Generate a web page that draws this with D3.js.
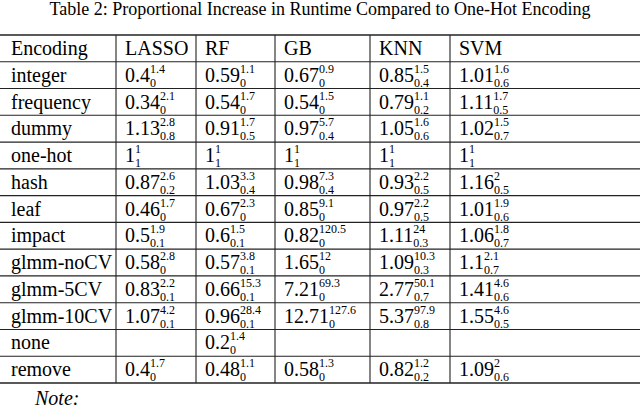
<!DOCTYPE html>
<html><head><meta charset="utf-8">
<script src="https://cdn.jsdelivr.net/npm/d3@7"></script>
<style>body{margin:0;background:#fff}</style>
</head><body>
<script>
// table contents: value, upper (superscript), lower (subscript)
let columns = ["Encoding", "LASSO", "RF", "GB", "KNN", "SVM"];
let encodings = ["integer", "frequency", "dummy", "one-hot", "hash", "leaf", "impact",
                 "glmm-noCV", "glmm-5CV", "glmm-10CV", "none", "remove"];
let lasso = [["0.4","1.4","0"],["0.34","2.1","0"],["1.13","2.8","0.8"],["1","1","1"],["0.87","2.6","0.2"],["0.46","1.7","0"],["0.5","1.9","0.1"],["0.58","2.8","0"],["0.83","2.2","0.1"],["1.07","4.2","0.1"],null,["0.4","1.7","0"]];
let rf = [["0.59","1.1","0"],["0.54","1.7","0"],["0.91","1.7","0.5"],["1","1","1"],["1.03","3.3","0.4"],["0.67","2.3","0"],["0.6","1.5","0.1"],["0.57","3.8","0.1"],["0.66","15.3","0.1"],["0.96","28.4","0.1"],["0.2","1.4","0"],["0.48","1.1","0"]];
let gb = [["0.67","0.9","0"],["0.54","1.5","0"],["0.97","5.7","0.4"],["1","1","1"],["0.98","7.3","0.4"],["0.85","9.1","0"],["0.82","120.5","0"],["1.65","12","0"],["7.21","69.3","0"],["12.71","127.6","0"],null,["0.58","1.3","0"]];
let knn = [["0.85","1.5","0.4"],["0.79","1.1","0.2"],["1.05","1.6","0.6"],["1","1","1"],["0.93","2.2","0.5"],["0.97","2.2","0.5"],["1.11","24","0.3"],["1.09","10.3","0.3"],["2.77","50.1","0.7"],["5.37","97.9","0.8"],null,["0.82","1.2","0.2"]];
let svm = [["1.01","1.6","0.6"],["1.11","1.7","0.5"],["1.02","1.5","0.7"],["1","1","1"],["1.16","2","0.5"],["1.01","1.9","0.6"],["1.06","1.8","0.7"],["1.1","2.1","0.7"],["1.41","4.6","0.6"],["1.55","4.6","0.5"],null,["1.09","2","0.6"]];
let series = [lasso, rf, gb, knn, svm];

let width = 640, height = 412;
let font = "'Liberation Serif', 'DejaVu Serif', serif";
let svg = d3.select("body").append("svg").attr("width", width).attr("height", height);

let colEdges = [2, 116, 196, 275, 370, 450, 637];
let x = d3.scaleOrdinal().domain(columns).range(colEdges.slice(0, -1));
let y = d3.scaleBand().domain(["header"].concat(encodings)).range([35, 383]);

svg.append("text").attr("x", 320).attr("y", 15).attr("text-anchor", "middle")
    .attr("font-family", font).attr("font-size", 18).text("Table 2: Proportional Increase in Runtime Compared to One-Hot Encoding");

// grid
let g = svg.append("g").attr("stroke", "#222").attr("fill", "none");
y.domain().forEach((r, i) => {
    let top = y(r);
    g.append("line").attr("x1", 0).attr("x2", width).attr("y1", top).attr("y2", top)
        .attr("stroke-width", i === 0 ? 1.6 : 1.1);
});
g.append("line").attr("x1", 0).attr("x2", width).attr("y1", y.range()[1]).attr("y2", y.range()[1]).attr("stroke-width", 1.6);
colEdges.slice(1, -1).forEach(c => g.append("line").attr("x1", c).attr("x2", c)
    .attr("y1", y.range()[0]).attr("y2", y.range()[1]).attr("stroke-width", 1.1));

// header
svg.selectAll(".hd").data(columns).enter().append("text")
    .attr("x", d => x(d) + 9).attr("y", y("header") + 20)
    .attr("font-family", font).attr("font-size", 20).text(d => d);

// rows
encodings.forEach((e, i) => {
    let base = y(e) + 20;
    svg.append("text").attr("x", x("Encoding") + 9).attr("y", base)
        .attr("font-family", font).attr("font-size", 20).text(e);
    series.forEach((s, j) => {
        let cell = s[i];
        if (!cell) return;
        let t = svg.append("text").attr("x", x(columns[j + 1]) + 9).attr("y", base)
            .attr("font-family", font).attr("font-size", 20).text(cell[0]);
        let w = t.node().getComputedTextLength();
        svg.append("text").attr("x", x(columns[j + 1]) + 9 + w).attr("y", base - 9)
            .attr("font-family", font).attr("font-size", 12).text(cell[1]);
        svg.append("text").attr("x", x(columns[j + 1]) + 9 + w).attr("y", base + 5)
            .attr("font-family", font).attr("font-size", 12).text(cell[2]);
    });
});

svg.append("text").attr("x", 35).attr("y", 405).attr("font-family", font)
    .attr("font-style", "italic").attr("font-size", 20).text("Note:");
</script>
</body></html>
